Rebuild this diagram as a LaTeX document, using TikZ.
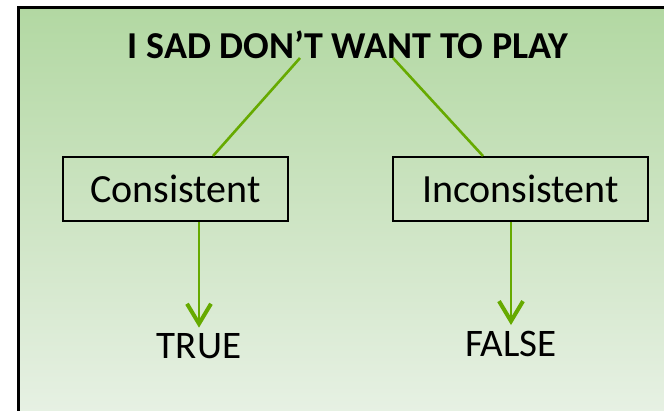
\documentclass[tikz,border=0pt]{standalone}
\usepackage{fontspec}
\setmainfont{Carlito}
\usepackage[HTML]{xcolor}
\usepackage{tikz}
\usetikzlibrary{positioning, arrows, arrows.meta}

\definecolor{bgtop}{HTML}{B2D8A2}
\definecolor{bgbot}{HTML}{E7F1E4}
\definecolor{leaf}{HTML}{66AA00}

\begin{document}
\begin{tikzpicture}[x=1pt,y=-1pt,
  choice/.style={draw,line width=2pt,minimum height=64pt,inner sep=0pt,font=\fontsize{40}{48}\selectfont},
  answer/.style={inner sep=6pt,font=\fontsize{39}{46}\selectfont},
  branch/.style={leaf,line width=2.6pt},
  arr/.style={leaf,line width=2.8pt,-{Straight Barb[length=20pt,width=24pt,line width=4pt]}}]
\clip (0,0) rectangle (664,410);
\shade[top color=bgtop,bottom color=bgbot] (18,7) rectangle (670,416);
\draw[line width=3pt] (18,416) -- (18,7) -- (670,7);

\node (title) at (348,45) {\fontsize{38}{46}\selectfont\bfseries I SAD DON’T WANT TO PLAY};
\node[choice,minimum width=225pt] (cons) at (175.5,189) {Consistent};
\node[choice,minimum width=255pt] (incons) at (520.5,189) {Inconsistent};
\node[answer] (true) at (199,346.5) {TRUE};
\node[answer] (false) at (511,344) {FALSE};

\coordinate (t1) at (300,58);
\coordinate (t2) at (393,58);
\draw[branch] (t1) -- ([xshift=37.5pt]cons.north);
\draw[branch] (t2) -- ([xshift=-37.5pt]incons.north);
\draw[arr] (cons.south -| true.north) -- (true.north);
\draw[arr] (incons.south -| false.north) -- (false.north);
\end{tikzpicture}
\end{document}
